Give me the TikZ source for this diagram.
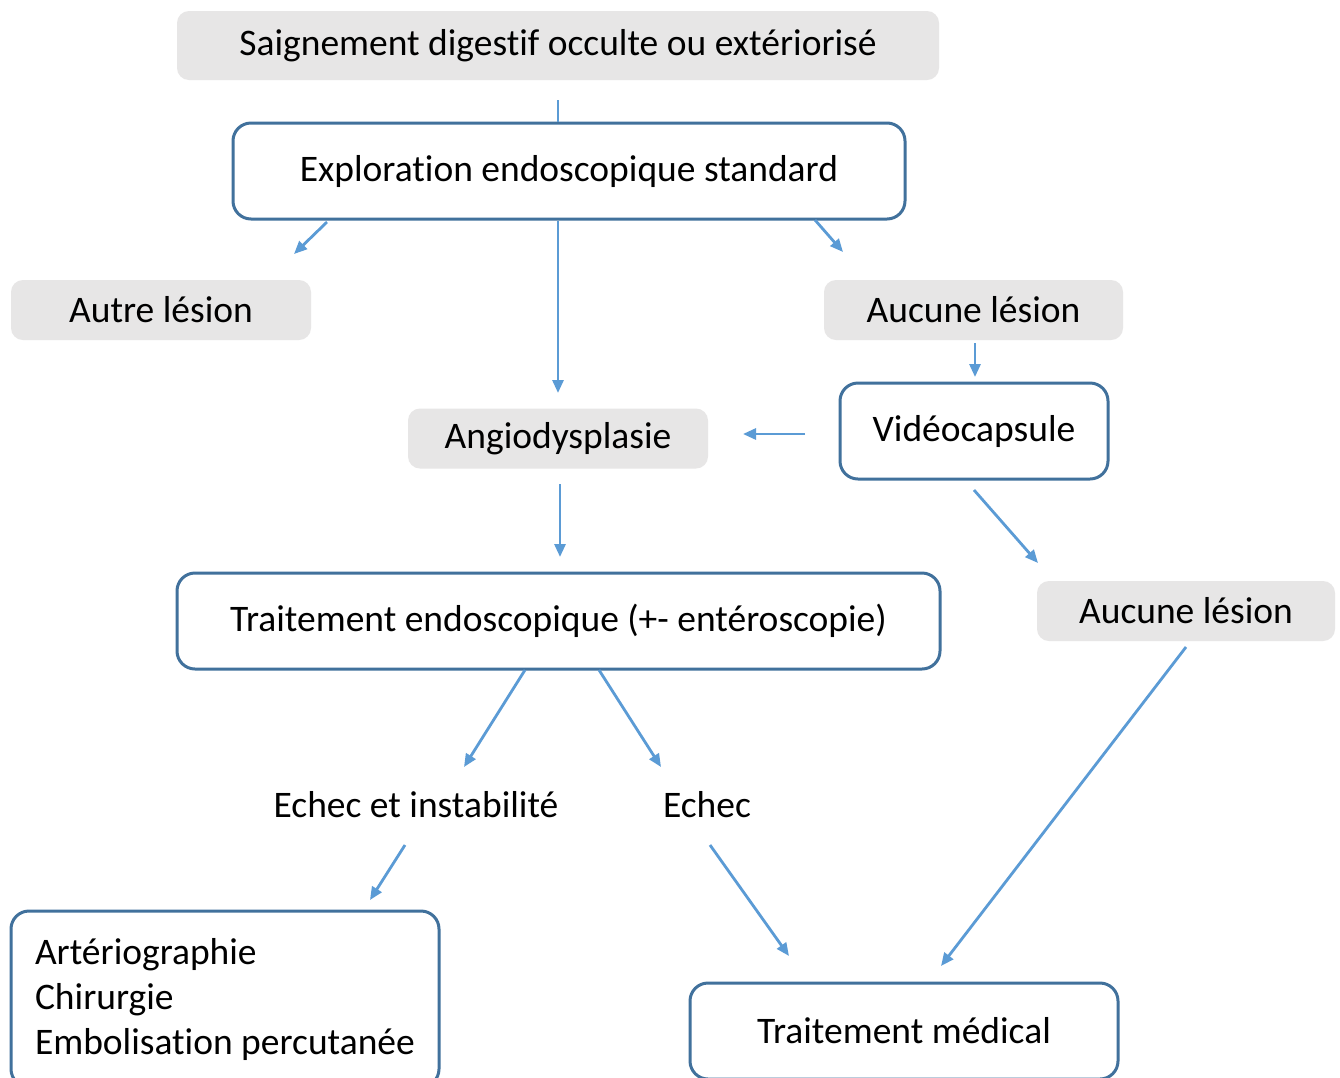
\documentclass[tikz,border=0pt]{standalone}
\usepackage{fontspec}
\setmainfont[Ligatures=NoCommon]{Carlito}
\usetikzlibrary{arrows.meta}
\definecolor{boxgray}{HTML}{E7E6E6}
\definecolor{boxline}{HTML}{41719C}
\definecolor{arrblue}{HTML}{5B9BD5}
\tikzset{
  graybox/.style={fill=boxgray, draw=none, rounded corners=12pt, inner sep=0pt},
  linebox/.style={fill=white, draw=boxline, line width=3pt, rounded corners=18pt, inner sep=0pt},
  plain/.style={inner sep=0pt},
  arr/.style={draw=arrblue, line width=2.8pt, -{Triangle[length=13pt,width=11pt]}},
  conn/.style={draw=arrblue, line width=2.8pt},
}
\begin{document}
\begin{tikzpicture}[x=1pt,y=-1pt, every node/.style={font=\fontsize{37.5}{45}\selectfont}]
\clip (0,0) rectangle (1340,1077);
\fill[white] (0,0) rectangle (1340,1077);
% nodes
\node[graybox, minimum width=762pt, minimum height=69pt] (top) at (558,45.5) {Saignement digestif occulte ou extériorisé};
\node[linebox, minimum width=672pt, minimum height=96pt] (expl) at (569,171) {Exploration endoscopique standard};
\node[graybox, minimum width=300pt, minimum height=60pt] (autre) at (161,310) {Autre lésion};
\node[graybox, minimum width=299pt, minimum height=60pt] (aucun1) at (973.5,310) {Aucune lésion};
\node[graybox, minimum width=300pt, minimum height=60pt] (angio) at (558,438.5) {Angiodysplasie};
\node[linebox, minimum width=268pt, minimum height=96pt] (video) at (974,431) {Vidéocapsule};
\node[linebox, minimum width=763pt, minimum height=96pt] (trait) at (558.5,621) {Traitement endoscopique (+- entéroscopie)};
\node[graybox, minimum width=298pt, minimum height=60pt] (aucun2) at (1186,611) {Aucune lésion};
\node[plain] (echinst) at (416,805) {Echec et instabilité};
\node[plain] (echec) at (707,805) {Echec};
\node[linebox, minimum width=428pt, minimum height=176pt, inner xsep=24pt, text width=380pt, align=left] (art) at (225,999) {\mbox{Artériographie}\\\mbox{Chirurgie}\\\mbox{Embolisation\hspace{0.226em}percutanée}};
\node[linebox, minimum width=428pt, minimum height=96pt] (med) at (904,1031) {Traitement médical};
% connector end points
\coordinate (a1s) at (327,222); \coordinate (a1e) at (294,254);
\coordinate (a2e) at (558,393);
\coordinate (a3s) at (815,220); \coordinate (a3e) at (843,252);
\coordinate (a4s) at (975,343); \coordinate (a4e) at (975,377);
\coordinate (a5s) at (805,434); \coordinate (a5e) at (743,434);
\coordinate (a6s) at (560,484); \coordinate (a6e) at (560,557);
\coordinate (a7s) at (974,490); \coordinate (a7e) at (1038,563);
\coordinate (a8s) at (1186,647); \coordinate (a8e) at (941,966);
\coordinate (a9s) at (525,670); \coordinate (a9e) at (464,767);
\coordinate (a10s) at (599,670); \coordinate (a10e) at (661,767);
\coordinate (a11s) at (405,845); \coordinate (a11e) at (370,900);
\coordinate (a12s) at (710,845); \coordinate (a12e) at (789,956);
\coordinate (t0) at (558,100);
% connectors
\draw[conn] (t0) -- (expl.north -| t0);
\draw[arr] (a1s) -- (a1e);
\draw[arr] (expl.south -| a2e) -- (a2e);
\draw[arr] (a3s) -- (a3e);
\draw[arr] (a4s) -- (a4e);
\draw[arr] (a5s) -- (a5e);
\draw[arr] (a6s) -- (a6e);
\draw[arr] (a7s) -- (a7e);
\draw[arr] (a8s) -- (a8e);
\draw[arr] (a9s) -- (a9e);
\draw[arr] (a10s) -- (a10e);
\draw[arr] (a11s) -- (a11e);
\draw[arr] (a12s) -- (a12e);
\end{tikzpicture}
\end{document}
